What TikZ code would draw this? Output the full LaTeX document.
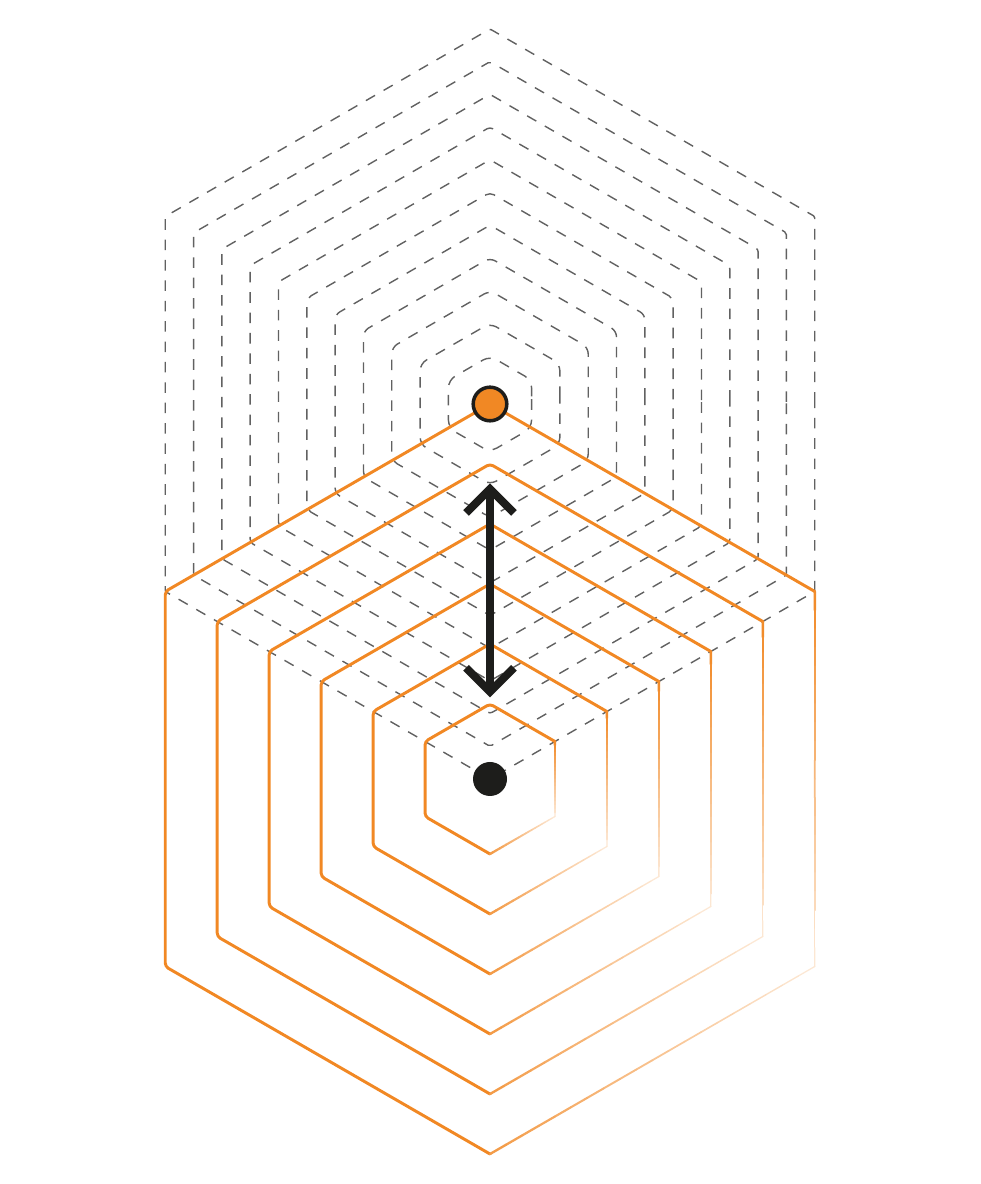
\documentclass[tikz,border=0pt]{standalone}
\usetikzlibrary{calc}

\definecolor{hexorange}{HTML}{F18824}
\definecolor{inkblack}{HTML}{1D1D1B}

\begin{document}
\begin{tikzpicture}[
	dashhex/.style={draw=black!62, line width=1pt, dash pattern=on 7.5pt off 7pt},
	hexline/.style={draw=hexorange, line width=2.1pt, line cap=round, line join=round, rounded corners=2.5pt},
	fadeline/.style={line cap=round},
	arrowline/.style={draw=inkblack, line width=5.7pt},
]

% frame %{{{2

	\useasboundingbox (-12.25,-10.125) rectangle (12.25,19.475);

% coordinate %{{{2

	\coordinate (O) at (0,0);
	\coordinate (P) at (0,9.375);
	\coordinate (T) at (0,7.25);
	\coordinate (S) at (0,2.18);

% dashed hexagons round P %{{{2

	\foreach \k in {0,...,10} {
		\pgfmathsetmacro{\R}{9.375-0.8175*\k}
		\pgfmathsetmacro{\rc}{1+0.45*\k}
		\draw[dashhex, rounded corners=\rc pt, shift={(P)}]
			(0:{0.866*\R}) -- (30:\R) -- (90:\R) -- (150:\R) -- (210:\R) -- (270:\R) -- (330:\R) -- cycle;
	}

% orange hexagons round O %{{{2

	\foreach \R in {9.375,7.875,6.375,4.875,3.375,1.875} {
		\draw[hexline] (-90:\R) -- (210:\R) -- (150:\R) -- (90:\R) -- (30:\R);
		\foreach \i in {1,...,20} {
			\pgfmathsetmacro{\ta}{(\i-1)/20}
			\pgfmathsetmacro{\tb}{\i/20}
			\pgfmathtruncatemacro{\pa}{100-82*(\i-0.5)/20}
			\pgfmathtruncatemacro{\pb}{18+67*(\i-0.5)/20}
			\pgfmathsetmacro{\wa}{1.8-0.9*(\i-0.5)/20}
			\pgfmathsetmacro{\wb}{0.9+0.8*(\i-0.5)/20}
			\draw[fadeline, draw=hexorange!\pa!white, line width=\wa pt]
				($(30:\R)!\ta!(-30:\R)$) -- ($(30:\R)!\tb!(-30:\R)$);
			\draw[fadeline, draw=hexorange!\pb!white, line width=\wb pt]
				($(-30:\R)!\ta!(-90:\R)$) -- ($(-30:\R)!\tb!(-90:\R)$);
		}
	}

% double arrow %{{{2

	\draw[arrowline] (T) -- (S);
	\draw[arrowline, line join=miter] ($(T)+(-0.6,-0.6)$) -- (T) -- ($(T)+(0.6,-0.6)$);
	\draw[arrowline, line join=miter] ($(S)+(-0.6,0.6)$) -- (S) -- ($(S)+(0.6,0.6)$);

% points %{{{2

	\filldraw[fill=hexorange, draw=inkblack, line width=2.5pt] (P) circle (0.42);
	\fill[inkblack] (O) circle (0.425);

\end{tikzpicture}
\end{document}
